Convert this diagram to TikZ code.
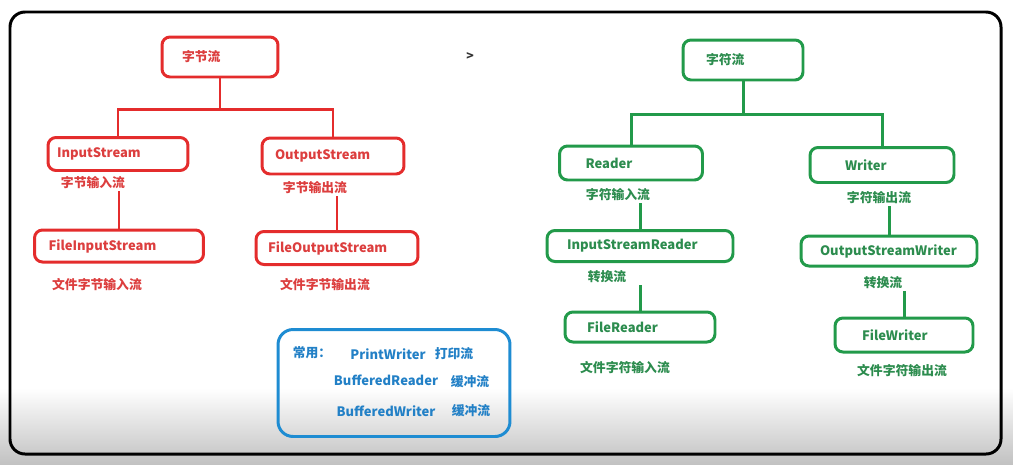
\documentclass[tikz,border=0pt]{standalone}
\usepackage{fontspec}
\setmainfont{Noto Sans CJK SC}
\usepackage{tikz}
\hyphenpenalty=10000
\definecolor{boxred}{RGB}{228,44,44}
\definecolor{txtred}{RGB}{220,62,62}
\definecolor{boxgreen}{RGB}{34,154,74}
\definecolor{txtgreen}{RGB}{44,140,78}
\definecolor{boxblue}{RGB}{30,140,210}
\definecolor{txtblue}{RGB}{34,128,198}
\newcommand{\labfont}{\fontsize{7.3}{9}\selectfont\bfseries}
\newcommand{\latfont}{\fontsize{7.4}{9}\selectfont\bfseries}
\tikzstyle{rednode} = [rectangle, rounded corners=0.16cm, draw=boxred, line width=1.7pt,
                       align=left, text=txtred, font=\latfont, inner ysep=0pt]
\tikzstyle{greennode} = [rectangle, rounded corners=0.16cm, draw=boxgreen, line width=1.7pt,
                         align=left, text=txtgreen, font=\latfont, inner ysep=0pt]
\tikzstyle{bluenode} = [rectangle, rounded corners=0.3cm, draw=boxblue, line width=1.7pt]
\tikzstyle{redline} = [draw=boxred, line width=1.7pt]
\tikzstyle{greenline} = [draw=boxgreen, line width=1.7pt]
\tikzstyle{redtext} = [text=txtred, font=\labfont, inner sep=1pt]
\tikzstyle{greentext} = [text=txtgreen, font=\labfont, inner sep=1pt]
\tikzstyle{bluetext} = [text=txtblue, font=\latfont, inner sep=1pt]

\begin{document}
\begin{tikzpicture}[x=0.02cm, y=-0.02cm]
  \useasboundingbox (0,0) rectangle (1013,464);
  \shade [top color=white, bottom color=black!24] (0,388) rectangle (1013,464);
  \draw [line width=1.7pt, rounded corners=0.3cm] (10,12) rectangle (1001,454);
  \node (mark) [font=\bfseries\fontsize{7}{8}\selectfont, text=black!80] at (470,57) {>};

  % byte streams
  \node (bytes) [rednode, text width=1.52cm, inner xsep=0.4cm, minimum height=0.8cm] at (220,57) {{\labfont 字节流}};
  \node (instream) [rednode, text width=2.44cm, inner xsep=0.18cm, minimum height=0.66cm] at (118,154) {InputStream};
  \node (outstream) [rednode, text width=2.32cm, inner xsep=0.26cm, minimum height=0.72cm] at (333,156) {OutputStream};
  \node (inlabel) [redtext] at (93,183) {字节输入流};
  \node (outlabel) [redtext] at (315,188) {字节输出流};
  \node (fileinstream) [rednode, text width=2.82cm, inner xsep=0.28cm, minimum height=0.64cm] at (119,246) {FileInputStream};
  \node (fileoutstream) [rednode, text width=2.76cm, inner xsep=0.24cm, minimum height=0.66cm] at (337,248) {FileOutputStream};
  \node (fileinlabel) [redtext] at (97,285) {文件字节输入流};
  \node (fileoutlabel) [redtext] at (325,285) {文件字节输出流};

  \draw [redline] (bytes.south) -- ++(0,31) -| (instream.north);
  \draw [redline] (bytes.south) -- ++(0,31) -| (outstream.north);
  \draw [redline] (fileinstream.north |- inlabel.south) -- (fileinstream.north);
  \draw [redline] (fileoutstream.north |- outlabel.south) -- (fileoutstream.north);

  % char streams
  \node (chars) [greennode, text width=1.48cm, inner xsep=0.46cm, minimum height=0.8cm] at (743,60) {{\labfont 字符流}};
  \node (reader) [greennode, text width=1.82cm, inner xsep=0.52cm, minimum height=0.68cm] at (631,163) {Reader};
  \node (writer) [greennode, text width=1.48cm, inner xsep=0.7cm, minimum height=0.7cm] at (882,165) {Writer};
  \node (readlabel) [greentext] at (618,195) {字符输入流};
  \node (writelabel) [greentext] at (879,198) {字符输出流};
  \node (isreader) [greennode, text width=2.92cm, inner xsep=0.4cm, minimum height=0.62cm] at (640,246) {InputStreamReader};
  \node (oswriter) [greennode, text width=2.76cm, inner xsep=0.38cm, minimum height=0.6cm] at (889,251) {OutputStreamWriter};
  \node (isrlabel) [greentext] at (607,277) {转换流};
  \node (oswlabel) [greentext] at (883,283) {转换流};
  \node (filereader) [greennode, text width=2.12cm, inner xsep=0.44cm, minimum height=0.6cm] at (640,327) {FileReader};
  \node (filewriter) [greennode, text width=1.68cm, inner xsep=0.54cm, minimum height=0.68cm] at (904,335) {FileWriter};
  \node (frlabel) [greentext] at (625,368) {文件字符输入流};
  \node (fwlabel) [greentext] at (902,371) {文件字符输出流};

  \draw [greenline] (chars.south) -- ++(0,33) -| (reader.north);
  \draw [greenline] (chars.south) -- ++(0,33) -| (writer.north);
  \draw [greenline] (isreader.north |- readlabel.south) -- (isreader.north);
  \draw [greenline] (filereader.north |- isrlabel.south) -- (filereader.north);
  \draw [greenline] (oswriter.north |- writelabel.south) -- (oswriter.north);
  \draw [greenline] (filewriter.north |- oswlabel.south) -- (filewriter.north);

  % common ones
  \node (common) [bluenode, minimum width=4.64cm, minimum height=2.14cm] at (394,383) {};
  \node (usual) [bluetext, font=\labfont] at (312,353) {常用：};
  \node (printw) [bluetext] at (388,354) {PrintWriter};
  \node (printlabel) [bluetext, font=\labfont] at (454,354) {打印流};
  \node (bufr) [bluetext] at (386,380) {BufferedReader};
  \node (bufrlabel) [bluetext, font=\labfont] at (470,382) {缓冲流};
  \node (bufw) [bluetext] at (386,411) {BufferedWriter};
  \node (bufwlabel) [bluetext, font=\labfont] at (471,411) {缓冲流};
\end{tikzpicture}
\end{document}
